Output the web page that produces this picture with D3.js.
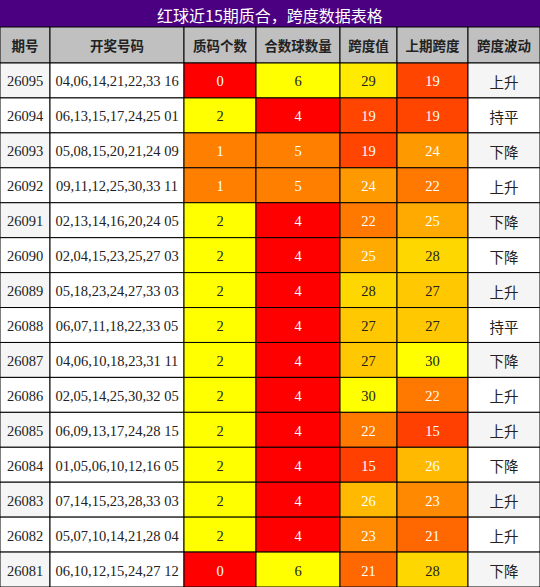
<!DOCTYPE html><html><head><meta charset="utf-8"><script src="https://d3js.org/d3.v7.min.js"></script>
<style>body{margin:0;background:#fff}</style></head><body><script>
const title="红球近15期质合，跨度数据表格";
const headers=["期号","开奖号码","质码个数","合数球数量","跨度值","上期跨度","跨度波动"];
const issues=["26095","26094","26093","26092","26091","26090","26089","26088","26087","26086","26085","26084","26083","26082","26081"];
const draws=["04,06,14,21,22,33 16","06,13,15,17,24,25 01","05,08,15,20,21,24 09","09,11,12,25,30,33 11","02,13,14,16,20,24 05","02,04,15,23,25,27 03","05,18,23,24,27,33 03","06,07,11,18,22,33 05","04,06,10,18,23,31 11","02,05,14,25,30,32 05","06,09,13,17,24,28 15","01,05,06,10,12,16 05","07,14,15,23,28,33 03","05,07,10,14,21,28 04","06,10,12,15,24,27 12"];
const primes=[0,2,1,1,2,2,2,2,2,2,2,2,2,2,0];
const composites=[6,4,5,5,4,4,4,4,4,4,4,4,4,4,6];
const spans=[29,19,19,24,22,25,28,27,27,30,22,15,26,23,21];
const prevSpans=[19,19,24,22,25,28,27,27,30,22,15,26,23,21,28];
const trends=["上升","持平","下降","上升","下降","下降","上升","持平","下降","上升","上升","下降","上升","上升","下降"];

const W=540,H=587,titleH=27,headH=36;
const colX=[0,50,184,256,340,397,468,540];
const svg=d3.select("body").append("svg").attr("width",W).attr("height",H);
const y=d3.scaleBand().domain(d3.range(issues.length)).range([titleH+headH,H]);
const cntColor=d3.scaleOrdinal().domain([0,1,2]).range(["#ff0000","#ff8000","#ffff00"]);
const compColor=d3.scaleOrdinal().domain([6,5,4]).range(["#ffff00","#ff8000","#ff0000"]);
const spanColor=d3.scaleLinear().domain([15,19,22,25,28,30]).range(["#ff4000","#ff4500","#ff7800","#ffaa00","#ffd700","#ffff00"]);
const cjk="'Noto Sans CJK SC',sans-serif", serif="'Liberation Serif',serif";

svg.append("rect").attr("width",W).attr("height",titleH).attr("fill","#4b0082");
svg.append("text").attr("x",W/2).attr("y",titleH/2+1).attr("text-anchor","middle").attr("dominant-baseline","central")
 .attr("fill","#fff").attr("font-family",cjk).attr("font-size",16).text(title);
headers.forEach((h,i)=>{
 svg.append("rect").attr("x",colX[i]).attr("y",titleH).attr("width",colX[i+1]-colX[i]).attr("height",headH).attr("fill","#c0c0c0").attr("stroke","#000");
 svg.append("text").attr("x",(colX[i]+colX[i+1])/2).attr("y",titleH+headH/2).attr("text-anchor","middle").attr("dominant-baseline","central")
  .attr("font-family",cjk).attr("font-weight","bold").attr("font-size",13.5).attr("fill","#222").text(h);
});
const light=c=>{const l=d3.hsl(c);return d3.rgb(c).g>0xc0?"#222":"#fff";};
issues.forEach((iss,r)=>{
 const base=r%2===0?"#f5f5f5":"#ffffff";
 const cells=[[iss,base,"#222",serif],[draws[r],"#fff","#222",serif],[primes[r],cntColor(primes[r]),null,serif],
  [composites[r],compColor(composites[r]),null,serif],[spans[r],spanColor(spans[r]),null,serif],
  [prevSpans[r],spanColor(prevSpans[r]),null,serif],[trends[r],base,"#222",cjk]];
 cells.forEach((c,i)=>{
  const fill=c[1];
  svg.append("rect").attr("x",colX[i]).attr("y",y(r)).attr("width",colX[i+1]-colX[i]).attr("height",y.bandwidth()).attr("fill",fill).attr("stroke","#000");
  svg.append("text").attr("x",(colX[i]+colX[i+1])/2).attr("y",y(r)+y.bandwidth()/2+1).attr("text-anchor","middle").attr("dominant-baseline","central")
   .attr("font-family",c[3]).attr("font-size",14.5).attr("fill",c[2]||light(fill)).text(c[0]);
 });
});
</script></body></html>
